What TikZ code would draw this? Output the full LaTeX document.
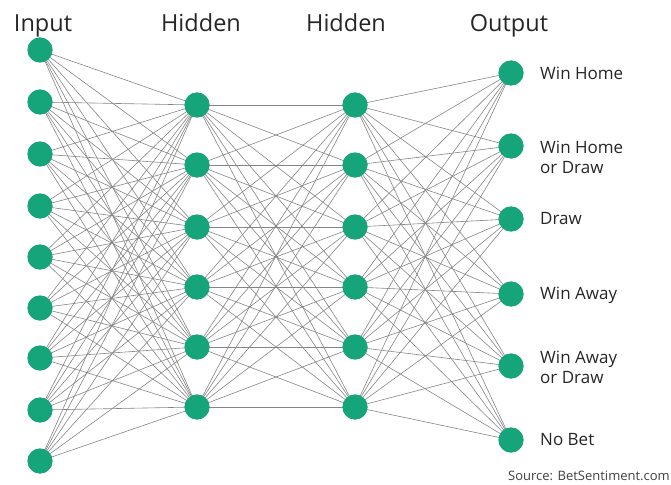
\documentclass[tikz,border=0pt]{standalone}
\usepackage{fontspec}
\setmainfont{Open Sans}
\definecolor{nodegreen}{HTML}{16A57A}
\definecolor{edgegray}{HTML}{858585}
\begin{document}
\begin{tikzpicture}[x=1pt,y=-1pt,
  neuron/.style={circle,fill=nodegreen,draw=none,minimum size=25pt,inner sep=0pt},
  edge/.style={draw=edgegray,line width=0.6pt},
  head/.style={font=\fontsize{23.5}{26}\selectfont,text=black!85,inner sep=0pt,anchor=base},
  outlabel/.style={font=\fontsize{17}{20}\selectfont,text=black!85,inner sep=0pt,anchor=west,align=left},
  src/.style={font=\fontsize{13}{15}\selectfont,text=black!75,inner sep=0pt,anchor=base east}]
\useasboundingbox (0,0) rectangle (671,484);
% input layer
\foreach \i/\y in {1/50,2/102,3/154,4/206,5/257,6/308,7/358,8/410,9/461}
  \node[neuron] (in\i) at (40,\y) {};
% hidden layers
\foreach \i/\y in {1/105,2/165,3/227,4/287,5/347,6/407}{
  \node[neuron] (ha\i) at (197,\y) {};
  \node[neuron] (hb\i) at (355,\y) {};
}
% output layer
\foreach \i/\y in {1/73,2/146,3/219,4/294,5/366,6/440}
  \node[neuron] (out\i) at (511,\y) {};
% edges
\foreach \i in {1,...,9}
  \foreach \j in {1,...,6}
    \draw[edge] (in\i.center) -- (ha\j.center);
\foreach \i in {1,...,6}
  \foreach \j in {1,...,6}{
    \draw[edge] (ha\i.center) -- (hb\j.center);
    \draw[edge] (hb\i.center) -- (out\j.center);
  }
% redraw nodes on top of the edges
\foreach \i/\y in {1/50,2/102,3/154,4/206,5/257,6/308,7/358,8/410,9/461}
  \node[neuron] at (40,\y) {};
\foreach \i/\y in {1/105,2/165,3/227,4/287,5/347,6/407}{
  \node[neuron] at (197,\y) {};
  \node[neuron] at (355,\y) {};
}
\foreach \i/\y in {1/73,2/146,3/219,4/294,5/366,6/440}
  \node[neuron] at (511,\y) {};
% headings
\node[head] (t1) at (43,32) {Input};
\node[head] (t2) at (201,32) {Hidden};
\node[head] (t3) at (346,32) {Hidden};
\node[head] (t4) at (509,32) {Output};
% output labels
\node[outlabel] (l1) at (540,73) {Win Home};
\node[outlabel] (l2) at (540,157) {Win Home\\or Draw};
\node[outlabel] (l3) at (540,219) {Draw};
\node[outlabel] (l4) at (540,295) {Win Away};
\node[outlabel] (l5) at (540,367) {Win Away\\or Draw};
\node[outlabel] (l6) at (540,440) {No Bet};
\node[src] (s) at (670,480) {Source: BetSentiment.com};
\end{tikzpicture}
\end{document}
